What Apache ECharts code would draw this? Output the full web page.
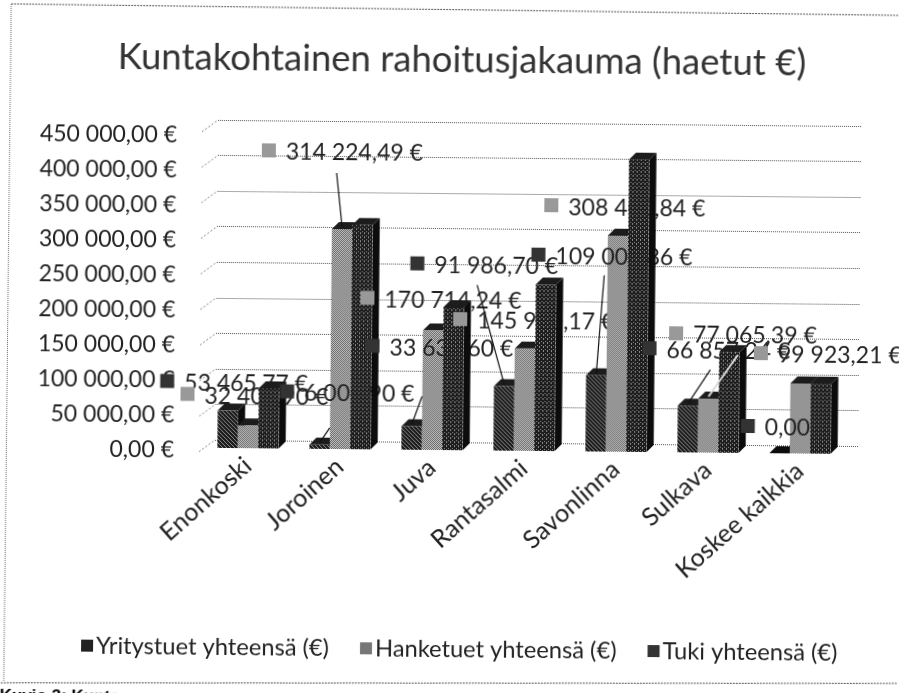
<!DOCTYPE html>
<html>
<head>
<meta charset="utf-8">
<style>
  html, body { margin: 0; padding: 0; background: #fff; width: 899px; height: 693px; overflow: hidden; }
  /* the reference is a slightly crooked scan */
  #chart { width: 930px; height: 730px; transform: rotate(0.55deg); transform-origin: 228px 448px; }
</style>
<script src="https://cdn.jsdelivr.net/npm/echarts@6/dist/echarts.min.js"></script>
</head>
<body>
<div id="chart"></div>
<script>
const categories = ['Enonkoski', 'Joroinen', 'Juva', 'Rantasalmi', 'Savonlinna', 'Sulkava', 'Koskee kaikkia']
const yritystuet = [53465.77, 6000.9, 33633.6, 91986.7, 109000.86, 66857.24, 0]
const hanketuet = [32400.9, 314224.49, 170714.24, 145900.17, 308400.84, 77065.39, 99923.21]
const tuki = [85866.67, 320225.39, 204347.84, 237886.87, 417401.7, 143922.63, 99923.21]
const seriesNames = ['Yritystuet yhteensä (€)', 'Hanketuet yhteensä (€)', 'Tuki yhteensä (€)']
const ticks = [0, 50000, 100000, 150000, 200000, 250000, 300000, 350000, 400000, 450000]

// label key square relative to the top of its bar: [dx, dy]
const yritysLabelPos = [[-68, -27], [-40, -51], [-47, -78], [-95, -120], [-66, -118], [-46, -55], [-39, -25]]
const hankeLabelPos = [[-68, -29], [-81, -76], [-73, -30], [-72, -27], [-74, -28], [-40, -63], [-47, -28]]
// free end of the leader lines, relative to the bar top
const yritysLeaders = [[0, 0], [10, -15], [10, -28], [-28, -99], [7, -98], [22, -34], [0, 0]]
const hankeLeaders = [[0, 0], [-6, -54], [0, 0], [0, 0], [0, 0], [29, -42], [0, 0]]

const FONT = 'Lato, Carlito, sans-serif'
const DEPTH = 7
const BAR_SHARE = 0.222

const makePattern = (rows, dark, light) => {
  const c = document.createElement('canvas')
  c.width = rows[0].length
  c.height = rows.length
  const ctx = c.getContext('2d')
  rows.forEach((row, y) => {
    for (let x = 0; x < row.length; x++) {
      ctx.fillStyle = row[x] === '#' ? dark : light
      ctx.fillRect(x, y, 1, 1)
    }
  })
  return { image: c, repeat: 'repeat' }
}

const fills = [
  makePattern(['###.', '.###', '#.##', '##.#'], '#1c1c1c', '#8c8c8c'),
  makePattern(['#.#.', '.#.#', '#.#.', '.#.#'], '#666666', '#c4c4c4'),
  makePattern(['##.#', '####', '.###', '##.#'], '#1c1c1c', '#8c8c8c')
]

// paint order inside a category: yritys, hanke, labels, tuki
const barOrder = [0, 1, 5]
const labelOrder = [2, 3]

const renderBar = (seriesIndex) => (params, api) => {
  const catIdx = api.value(0)
  const base = api.coord([catIdx, 0])
  const top = api.coord([catIdx, api.value(1)])
  const w = api.size([1, 0])[0] * BAR_SHARE
  const x = base[0] + (seriesIndex - 1.5) * w
  const z2 = catIdx * 10 + barOrder[seriesIndex]
  const children = []
  if (api.value(1) > 0) {
    children.push({
      type: 'polygon',
      z2,
      shape: { points: [[x + w, top[1]], [x + w + DEPTH, top[1] - DEPTH], [x + w + DEPTH, base[1] - DEPTH], [x + w, base[1]]] },
      style: { fill: '#0c0c0c' }
    })
    children.push({
      type: 'polygon',
      z2,
      shape: { points: [[x, top[1]], [x + DEPTH, top[1] - DEPTH], [x + w + DEPTH, top[1] - DEPTH], [x + w, top[1]]] },
      style: { fill: '#1c1c1c' }
    })
    children.push({
      type: 'rect',
      z2,
      shape: { x: x, y: top[1], width: w, height: base[1] - top[1] },
      style: { fill: fills[seriesIndex] }
    })
  } else {
    children.push({
      type: 'polygon',
      z2,
      shape: { points: [[x, base[1]], [x + DEPTH, base[1] - DEPTH], [x + w + DEPTH, base[1] - DEPTH], [x + w, base[1]]] },
      style: { fill: '#0c0c0c' }
    })
  }
  return { type: 'group', children }
}

const euro = (v) => {
  const parts = v.toFixed(2).split('.')
  return parts[0].replace(/\B(?=(\d{3})+$)/g, ' ') + ',' + parts[1] + ' €'
}

const renderLabel = (seriesIndex, labelPos, leaders) => (params, api) => {
  const catIdx = api.value(0)
  const base = api.coord([catIdx, 0])
  const top = api.coord([catIdx, api.value(1)])
  const w = api.size([1, 0])[0] * BAR_SHARE
  const ax = base[0] + (seriesIndex - 1) * w
  const ay = top[1] - 2
  const lx = ax + labelPos[catIdx][0]
  const ly = ay + labelPos[catIdx][1]
  const lead = leaders[catIdx]
  // the Sulkava hanke leader runs across the dark bar, so it shows light
  const overBar = seriesIndex === 1 && catIdx === 5
  const z2 = catIdx * 10 + labelOrder[seriesIndex]
  return {
    type: 'group',
    children: [
      {
        type: 'line',
        z2: overBar ? z2 + 10 : z2,
        shape: { x1: ax, y1: ay, x2: ax + lead[0], y2: ay + lead[1] },
        style: { stroke: overBar ? '#d8d8d8' : '#111', lineWidth: overBar ? 2 : 1.2 }
      },
      {
        type: 'rect',
        z2,
        shape: { x: lx, y: ly - 7, width: 14, height: 14 },
        style: { fill: seriesIndex === 0 ? '#333' : '#999' }
      },
      {
        type: 'text',
        z2,
        x: lx + 24,
        y: ly + 2,
        style: {
          text: euro(api.value(1)),
          font: '23px ' + FONT,
          fill: '#222',
          verticalAlign: 'middle'
        }
      }
    ]
  }
}

const renderWallTick = (params, api) => {
  const p = api.coord([0, api.value(0)])
  const left = p[0] - api.size([1, 0])[0] / 2
  return {
    type: 'line',
    shape: { x1: left - 16, y1: p[1] + 12, x2: left, y2: p[1] },
    style: { stroke: '#888', lineWidth: 1, lineDash: [2, 2] }
  }
}

const barData = (arr) => arr.map((v, i) => [i, v])

const chart = echarts.init(document.getElementById('chart'))
chart.setOption({
  animation: false,
  backgroundColor: '#fff',
  textStyle: { fontFamily: FONT },
  title: {
    text: 'Kuntakohtainen rahoitusjakauma (haetut €)',
    left: 109,
    top: 35,
    textStyle: { fontFamily: FONT, fontSize: 36.5, fontWeight: 'normal', color: '#333' }
  },
  legend: {
    top: 630,
    left: 78,
    itemWidth: 12,
    itemHeight: 12,
    itemGap: 31,
    textStyle: { fontFamily: FONT, fontSize: 23.7, color: '#222', padding: [0, 0, 0, -2] },
    data: [
      { name: seriesNames[0], icon: 'rect', itemStyle: { color: '#222' } },
      { name: seriesNames[1], icon: 'rect', itemStyle: { color: '#777' } },
      { name: seriesNames[2], icon: 'rect', itemStyle: { color: '#333' } }
    ]
  },
  grid: [
    { left: 202, top: 133, width: 644, height: 315 },
    { left: 215, top: 120, width: 644, height: 320 },
    // only carries the value labels, which sit a little lower than the bars' scale
    { left: 202, top: 136, width: 644, height: 315 }
  ],
  xAxis: [
    {
      gridIndex: 0,
      type: 'category',
      data: categories,
      axisLine: { show: false },
      axisTick: { show: false },
      axisLabel: { rotate: 42, fontSize: 25, color: '#222', margin: 14, interval: 0, fontFamily: FONT }
    },
    { gridIndex: 1, type: 'category', data: categories, show: false },
    { gridIndex: 2, type: 'category', data: categories, show: false }
  ],
  yAxis: [
    {
      gridIndex: 0,
      type: 'value',
      min: 0,
      max: 450000,
      interval: 50000,
      show: false
    },
    {
      gridIndex: 1,
      type: 'value',
      min: 0,
      max: 450000,
      interval: 50000,
      axisLine: { show: false },
      axisTick: { show: false },
      axisLabel: { show: false },
      splitLine: { lineStyle: { color: '#555', type: 'dotted', width: 1 } }
    },
    {
      gridIndex: 2,
      type: 'value',
      min: 0,
      max: 450000,
      interval: 50000,
      axisLine: { show: false },
      axisTick: { show: false },
      splitLine: { show: false },
      axisLabel: { margin: 28, fontSize: 23, color: '#222', fontFamily: FONT, formatter: (v) => euro(v) }
    }
  ],
  series: [
    {
      type: 'custom',
      xAxisIndex: 1,
      yAxisIndex: 1,
      silent: true,
      z: 1,
      renderItem: renderWallTick,
      encode: { y: 0 },
      data: ticks
    },
    {
      type: 'custom',
      z: 2,
      renderItem: renderLabel(0, yritysLabelPos, yritysLeaders),
      encode: { x: 0, y: 1 },
      data: barData(yritystuet)
    },
    {
      type: 'custom',
      z: 2,
      renderItem: renderLabel(1, hankeLabelPos, hankeLeaders),
      encode: { x: 0, y: 1 },
      data: barData(hanketuet)
    },
    {
      name: seriesNames[0],
      type: 'custom',
      z: 2,
      renderItem: renderBar(0),
      encode: { x: 0, y: 1 },
      data: barData(yritystuet)
    },
    {
      name: seriesNames[1],
      type: 'custom',
      z: 2,
      renderItem: renderBar(1),
      encode: { x: 0, y: 1 },
      data: barData(hanketuet)
    },
    {
      name: seriesNames[2],
      type: 'custom',
      z: 2,
      renderItem: renderBar(2),
      encode: { x: 0, y: 1 },
      data: barData(tuki)
    }
  ],
  graphic: [
    { type: 'line', shape: { x1: 7, y1: 6, x2: 6, y2: 684 }, style: { stroke: '#666', lineDash: [1, 1] } },
    { type: 'line', shape: { x1: 7, y1: 6, x2: 899, y2: 9 }, style: { stroke: '#555', lineDash: [2, 1] } },
    { type: 'line', shape: { x1: 0, y1: 685, x2: 899, y2: 677 }, style: { stroke: '#555', lineDash: [2, 1] } },
    { type: 'text', x: 2, y: 690, style: { text: 'Kuvio 3: Kunta', font: 'bold 17px "Liberation Sans"', fill: '#000' } }
  ]
})
</script>
</body>
</html>
